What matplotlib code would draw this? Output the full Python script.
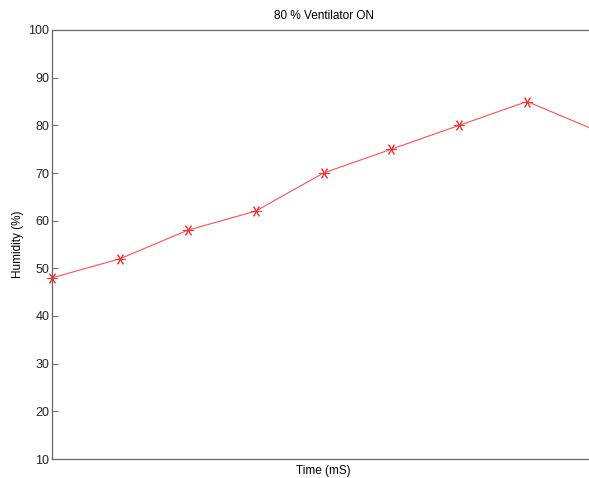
import matplotlib
matplotlib.use("Agg")
import matplotlib.pyplot as plt

# Humidity readings over time with the ventilator running at 80 %
sample_index = [1, 2, 3, 4, 5, 6, 7, 8, 9]
humidity = [48, 52, 58, 62, 70, 75, 80, 85, 79]
y_ticks = [10, 20, 30, 40, 50, 60, 70, 80, 90, 100]

plt.rcParams['font.family'] = ['Liberation Sans', 'DejaVu Sans']

fig = plt.figure(figsize=(5.89, 4.78), dpi=100)
# axes run past the right edge of the figure, so the last sample is cut off
ax = fig.add_axes([52 / 589, 19 / 478, 543 / 589, 429 / 478])

ax.plot(sample_index, humidity, color='#ff5050', lw=0.8,
        marker=(6, 2, 90), markersize=8, markeredgecolor='#ff3030',
        markeredgewidth=0.7, clip_on=False)

ax.set_xlim(1, 9)
ax.set_ylim(10, 100)
ax.set_yticks(y_ticks)
ax.set_xticks([])
ax.tick_params(axis='y', direction='in', length=4, width=0.6,
               color='#555555', labelcolor='#222222', labelsize=9, pad=2,
               right=False)
ax.spines['right'].set_visible(False)
for name in ('left', 'top', 'bottom'):
    ax.spines[name].set_color('#666666')
    ax.spines[name].set_linewidth(0.9)

ax.set_title('80 % Ventilator ON', fontsize=8.5, pad=8)
ax.set_xlabel('Time (mS)', fontsize=8.5, labelpad=4)
ax.set_ylabel('Humidity (%)', fontsize=8.5)
ax.yaxis.set_label_coords(-0.052, 0.5)

fig.savefig('out.png', dpi=100)
